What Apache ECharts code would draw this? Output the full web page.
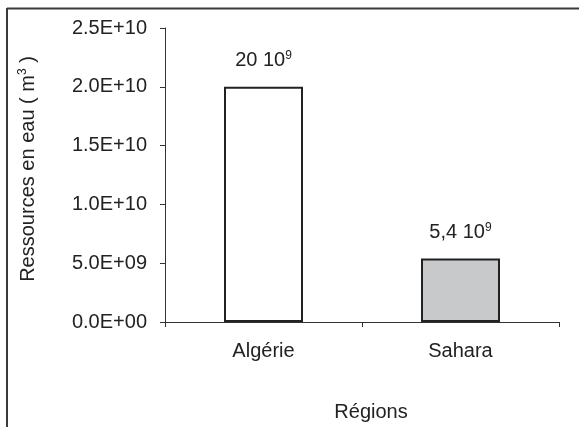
<!DOCTYPE html>
<html>
<head>
<meta charset="utf-8">
<script src="https://cdn.jsdelivr.net/npm/echarts@6/dist/echarts.min.js"></script>
<style>html,body{margin:0;padding:0;background:#fff;overflow:hidden}#c{width:579px;height:427px}</style>
</head>
<body>
<div id="c"></div>
<script>
const categories = ['Algérie', 'Sahara'];
const values = [2.0e10, 5.4e9];
const valueLabels = [['20 10', '9'], ['5,4 10', '9']];
const barColors = ['#ffffff', '#c8c9cb'];
const yTicks = ['0.0E+00', '5.0E+09', '1.0E+10', '1.5E+10', '2.0E+10', '2.5E+10'];
const yName = ['Ressources en eau ( m', '3', ' )'];
const xName = 'Régions';

const font = 'Liberation Sans, Arial, sans-serif';
const chart = echarts.init(document.getElementById('c'));
chart.setOption({
  animation: false,
  backgroundColor: '#fff',
  grid: { left: 165, right: 20, top: 28, bottom: 105, containLabel: false },
  graphic: [
    { type: 'line', shape: { x1: 7, y1: 8.5, x2: 600, y2: 8.5 }, style: { stroke: '#3a3a3a', lineWidth: 2 } },
    { type: 'line', shape: { x1: 7, y1: 8, x2: 7, y2: 440 }, style: { stroke: '#3a3a3a', lineWidth: 2 } }
  ],
  xAxis: {
    type: 'category',
    data: categories,
    boundaryGap: true,
    name: xName,
    nameLocation: 'middle',
    nameGap: 80,
    nameTextStyle: { fontFamily: font, fontSize: 20, color: '#222', padding: [0, 0, 0, 18] },
    axisLine: { lineStyle: { color: '#333', width: 1 } },
    axisTick: { show: true, inside: false, length: 5, lineStyle: { color: '#333' } },
    axisLabel: { fontFamily: font, fontSize: 20, color: '#222', margin: 19 }
  },
  yAxis: {
    type: 'value',
    min: 0, max: 2.5e10, interval: 5e9,
    name: '{a|' + yName[0] + '}{s|' + yName[1] + '}{a|' + yName[2] + '}',
    nameLocation: 'middle',
    nameGap: 126,
    nameRotate: 90,
    nameTextStyle: {
      padding: [0, 0, 0, 12],
      rich: {
        a: { fontFamily: font, fontSize: 20, color: '#222' },
        s: { fontFamily: font, fontSize: 12, color: '#222', padding: [0, 0, 10, 0] }
      }
    },
    splitLine: { show: false },
    axisLine: { show: true, lineStyle: { color: '#333', width: 1 } },
    axisTick: { show: true, inside: false, length: 5, lineStyle: { color: '#333' } },
    axisLabel: {
      fontFamily: font, fontSize: 20, color: '#222', margin: 18,
      formatter: function (v) { return yTicks[Math.round(v / 5e9)]; }
    }
  },
  series: [{
    type: 'bar',
    barWidth: 79,
    data: values.map(function (v, i) {
      return {
        value: v,
        itemStyle: { color: barColors[i], borderColor: '#222', borderWidth: 2 },
        label: {
          show: true, position: 'top', distance: 15,
          formatter: '{a|' + valueLabels[i][0] + '}{s|' + valueLabels[i][1] + '}',
          rich: {
            a: { fontFamily: font, fontSize: 20, color: '#222' },
            s: { fontFamily: font, fontSize: 12, color: '#222', padding: [0, 0, 10, 0] }
          }
        }
      };
    })
  }]
});
</script>
</body>
</html>
